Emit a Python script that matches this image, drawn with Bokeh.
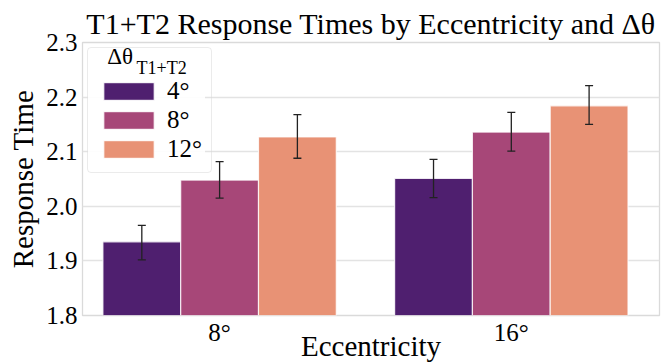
from bokeh.plotting import figure
from bokeh.models import (ColumnDataSource, Whisker, TeeHead, Label, BoxAnnotation,
                          FixedTicker, Range1d, PrintfTickFormatter)
from bokeh.embed import file_html
from bokeh.resources import INLINE

# ---- data ----
eccentricities = ["8°", "16°"]
delta_labels = ["4°", "8°", "12°"]
rt_4 = [1.935, 2.051]
rt_8 = [2.048, 2.136]
rt_12 = [2.127, 2.184]
lo_4 = [1.902, 2.016]
hi_4 = [1.965, 2.086]
lo_8 = [2.015, 2.101]
hi_8 = [2.082, 2.172]
lo_12 = [2.088, 2.150]
hi_12 = [2.168, 2.221]
y_ticks = [1.8, 1.9, 2.0, 2.1, 2.2, 2.3]
colors = ["#4F1F6F", "#A74778", "#E89275"]

FONT = "Liberation Serif"

p = figure(width=663, height=364,
           x_range=Range1d(-0.47, 1.508), y_range=Range1d(1.8, 2.3),
           output_backend="svg", toolbar_location=None,
           min_border_left=82, min_border_right=4,
           min_border_top=42, min_border_bottom=47)

p.title.text = "T1+T2 Response Times by Eccentricity and Δθ"
p.title.text_font = FONT
p.title.text_font_size = "30px"
p.title.text_font_style = "normal"
p.title.text_color = "black"
p.title.align = "center"
p.title.standoff = 6

bar_w = 0.8 / 3
offsets = [-bar_w, 0.0, bar_w]
series = [(rt_4, lo_4, hi_4), (rt_8, lo_8, hi_8), (rt_12, lo_12, hi_12)]

whisker_sources = []
for k, (vals, lo, hi) in enumerate(series):
    xs = [i + offsets[k] for i in range(len(eccentricities))]
    src = ColumnDataSource(dict(x=xs, top=vals, lo=lo, hi=hi))
    p.vbar(x="x", top="top", bottom=0, width=bar_w, source=src,
           fill_color=colors[k], line_color="white", line_width=1.2,
           line_alpha=0.8, legend_label=delta_labels[k])
    whisker_sources.append(src)

for src in whisker_sources:
    w = Whisker(source=src, base="x", lower="lo", upper="hi",
                dimension="height", line_color="#222222", line_width=1.3,
                upper_head=TeeHead(size=8, line_color="#222222", line_width=1.3),
                lower_head=TeeHead(size=8, line_color="#222222", line_width=1.3),
                level="overlay")
    p.add_layout(w)

# axes
p.xaxis.ticker = FixedTicker(ticks=list(range(len(eccentricities))))
p.xaxis.major_label_overrides = {i: e for i, e in enumerate(eccentricities)}
p.yaxis.ticker = FixedTicker(ticks=y_ticks)
p.yaxis.formatter = PrintfTickFormatter(format="%.1f")
for ax in (p.xaxis[0], p.yaxis[0]):
    ax.axis_line_color = None
    ax.major_tick_line_color = None
    ax.minor_tick_line_color = None
    ax.major_tick_out = 0
    ax.major_tick_in = 0
    ax.minor_tick_out = 0
    ax.minor_tick_in = 0
    ax.major_label_text_font = FONT
    ax.major_label_text_font_size = "25px"
    ax.major_label_text_font_style = "normal"
    ax.major_label_text_color = "black"
    ax.axis_label_text_font = FONT
    ax.axis_label_text_font_size = "29px"
    ax.axis_label_text_font_style = "normal"
    ax.axis_label_text_color = "black"
p.xaxis.axis_label = "Eccentricity"
p.yaxis.axis_label = "Response Time"
p.xaxis.major_label_standoff = 3
p.xaxis.axis_label_standoff = -19
p.yaxis.major_label_standoff = 5
p.yaxis.axis_label_standoff = 4

p.xgrid.visible = False
p.ygrid.grid_line_color = "#E3E3E3"
p.ygrid.grid_line_width = 1.3
p.outline_line_color = "#DADADA"
p.outline_line_width = 1.3
p.background_fill_color = "white"
p.border_fill_color = "white"

lg = p.legend[0]
lg.location = "top_left"
lg.title = " "
lg.title_text_font_size = "14px"
lg.title_standoff = 4
lg.label_text_font = FONT
lg.label_text_font_size = "25px"
lg.label_text_font_style = "normal"
lg.label_text_color = "black"
lg.glyph_width = 63
lg.glyph_height = 22
lg.label_height = 22
lg.spacing = 1
lg.padding = 9
lg.margin = 5
lg.label_standoff = 7
lg.border_line_color = "#D8D8D8"
lg.border_line_width = 1.2
lg.border_radius = 4
lg.background_fill_alpha = 0.0

# white backing behind the (transparent) legend box, so the title texts stay visible
p.add_layout(BoxAnnotation(left=-0.452, right=-0.05, top=2.291, bottom=2.06,
                           fill_color="white", fill_alpha=0.9, line_color=None,
                           level="annotation"))

# legend title: Δθ with a subscript
p.add_layout(Label(x=-0.3853, y=2.2509, text="Δθ", text_font=FONT,
                   text_font_size="23px", text_color="black",
                   x_units="data", y_units="data", level="overlay"))
p.add_layout(Label(x=-0.2849, y=2.2358, text="T1+T2", text_font=FONT,
                   text_font_size="18px", text_color="black",
                   x_units="data", y_units="data", level="overlay"))

open("out.html", "w").write(file_html(p, INLINE))
